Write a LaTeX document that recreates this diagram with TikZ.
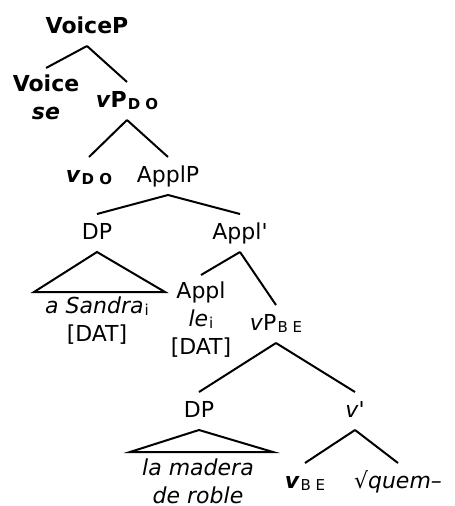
\documentclass[tikz,border=0pt]{standalone}
\usepackage{fontspec}
\newfontfamily\treefont{DejaVu Sans}
\newcommand{\lowsub}[1]{\kern1pt\raisebox{-2pt}{\fontsize{15}{15}\selectfont #1}}

\begin{document}
\begin{tikzpicture}[x=1pt,y=-1pt,line width=2pt]
  \tikzstyle{lab}=[inner xsep=1pt, inner ysep=8pt, text height=16pt, text depth=4pt, anchor=base, font=\treefont\fontsize{22}{28}\selectfont]
  \tikzstyle{leaf}=[inner xsep=1pt, inner ysep=6pt, align=center, anchor=north, font=\treefont\fontsize{22}{28}\selectfont]
  \useasboundingbox (0,0) rectangle (455,506);

  \node[lab] (voicep) at (87,33) {\textbf{VoiceP}};
  \node[leaf] (voice) at (46,68) {\textbf{Voice}\\\textbf{\textit{se}}};
  \node[lab] (vpdo) at (127,107) {\textbf{\textit{v}P\lowsub{D O}}};
  \node[lab] (vdo) at (89,182) {\textbf{\textit{v}\lowsub{D O}}};
  \node[lab] (applp) at (168,182) {ApplP};
  \node[lab] (dpa) at (97,239) {DP};
  \node[lab] (applbar) at (240,239) {Appl'};
  \node[leaf] (sandra) at (97,290) {\textit{a Sandra}\lowsub{i}\\{[DAT]}};
  \node[leaf] (appl) at (201,275) {Appl\\\textit{le}\lowsub{i}\\{[DAT]}};
  \node[lab] (vpbe) at (276,330) {\textit{v}P\lowsub{B E}};
  \node[lab] (dpb) at (199,417) {DP};
  \node[lab] (vbar) at (355,417) {\textit{v}'};
  \node[leaf] (madera) at (198,452) {\textit{la madera}\\\textit{de roble}};
  \node[lab] (vbe) at (305,488) {\textbf{\textit{v}}\lowsub{B E}};
  \node[lab] (root) at (398,488) {√\textit{quem–}};

  \draw (voicep.south) -- (voice.north);
  \draw (voicep.south) -- (vpdo.north);
  \draw (vpdo.south) -- (vdo.north);
  \draw (vpdo.south) -- (applp.north);
  \draw (applp.south) -- (dpa.north);
  \draw (applp.south) -- (applbar.north);
  \draw (dpa.south) -- ++(-63,40) -- ++(131,0) -- cycle;
  \draw (applbar.south) -- (appl.north);
  \draw (applbar.south) -- (vpbe.north);
  \draw (vpbe.south) -- (dpb.north);
  \draw (vpbe.south) -- (vbar.north);
  \draw (dpb.south) -- ++(-69,22) -- ++(143,0) -- cycle;
  \draw (vbar.south) -- (vbe.north);
  \draw (vbar.south) -- (root.north);
\end{tikzpicture}
\end{document}
